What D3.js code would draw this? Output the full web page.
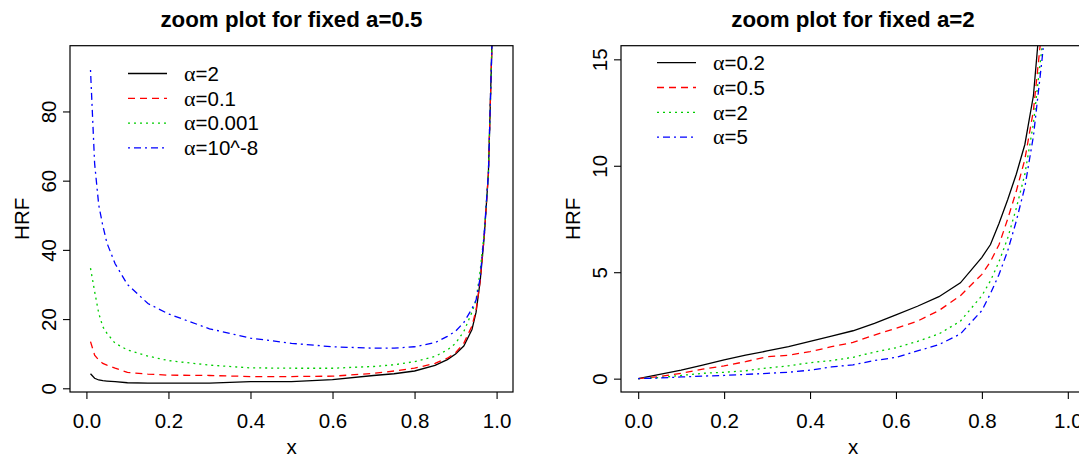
<!DOCTYPE html>
<html>
<head>
<meta charset="utf-8">
<script src="https://cdn.jsdelivr.net/npm/d3@7"></script>
<style>
  body { margin: 0; background: #fff; overflow: hidden; }
  svg { font-family: "Liberation Sans", Arial, sans-serif; }
</style>
</head>
<body>
<div class="chart"></div>
<script>
// DATA ------------------------------------

// left panel: fixed a=0.5
const leftX = [0.01, 0.02, 0.03, 0.04, 0.05, 0.07, 0.1, 0.15, 0.2, 0.3, 0.4, 0.5, 0.6,
  0.7, 0.75, 0.8, 0.85, 0.88, 0.9, 0.92, 0.94, 0.95, 0.96, 0.97, 0.98, 0.99];
const leftAlpha2 = [4.2, 2.9, 2.4, 2.2, 2.1, 1.9, 1.6, 1.5, 1.5, 1.5, 1.9, 1.9, 2.5,
  3.7, 4.2, 5.0, 6.6, 8.3, 9.9, 12.2, 17, 22, 31, 44, 62, 105];
const leftAlpha01 = [13.5, 9.6, 8.2, 7.2, 6.7, 5.8, 4.6, 4.1, 3.8, 3.7, 3.4, 3.4, 3.5,
  4.3, 5.0, 5.8, 7.2, 8.7, 10.3, 13, 18, 22.6, 31, 44, 62, 105];
const leftAlpha0001 = [34.7, 28, 21.7, 17.8, 15.9, 13, 11.1, 9.3, 8.0, 6.7, 5.9, 5.8, 5.8,
  6.3, 6.8, 7.7, 9.2, 11.1, 13, 16.4, 22, 25.5, 34, 45, 62, 105];
const leftAlpha1e8 = [92, 65, 53, 47, 42, 36, 30, 24.5, 21.5, 17.2, 14.5, 13, 12,
  11.6, 11.6, 12, 13.2, 15, 16.5, 19, 23, 25.5, 32, 45, 62, 105];
const leftLabels = ["2", "0.1", "0.001", "10^-8"];
const leftYTicks = [0, 20, 40, 60, 80];

// right panel: fixed a=2
const rightX = [0, 0.05, 0.1, 0.15, 0.2, 0.25, 0.3, 0.35, 0.4, 0.45, 0.5, 0.55, 0.6,
  0.65, 0.7, 0.75, 0.8, 0.82, 0.84, 0.86, 0.88, 0.9, 0.92, 0.94, 0.96];
const rightAlpha02 = [0, 0.2, 0.4, 0.64, 0.88, 1.1, 1.3, 1.5, 1.75, 2.0, 2.25, 2.6, 3.0,
  3.4, 3.85, 4.5, 5.7, 6.3, 7.3, 8.4, 9.6, 11.0, 13.3, 18, 25];
const rightAlpha05 = [0, 0.1, 0.25, 0.45, 0.6, 0.8, 1.03, 1.1, 1.27, 1.5, 1.7, 2.05, 2.36,
  2.7, 3.2, 3.9, 4.9, 5.5, 6.3, 7.5, 8.8, 10.3, 12.6, 16.5, 22];
const rightAlpha2 = [0, 0.05, 0.15, 0.25, 0.3, 0.37, 0.5, 0.6, 0.75, 0.85, 1.0, 1.25, 1.45,
  1.75, 2.1, 2.7, 3.9, 4.6, 5.5, 6.6, 8.0, 9.6, 12.0, 15.6, 20];
const rightAlpha5 = [0, 0.03, 0.08, 0.12, 0.15, 0.2, 0.25, 0.3, 0.4, 0.55, 0.65, 0.85, 1.0,
  1.3, 1.6, 2.1, 3.2, 4.0, 4.9, 6.0, 7.4, 9.0, 11.4, 15.0, 19];
const rightLabels = ["0.2", "0.5", "2", "5"];
const rightYTicks = [0, 5, 10, 15];

const xTicks = [0, 0.2, 0.4, 0.6, 0.8, 1.0];

// line styles shared by both panels (R lty 1..4)
const colors = ["#000000", "#ff0000", "#00cd00", "#0000ff"];
const dashes = [null, "7,5", "2,4", "2,4,7,4"];

// CHART INIT ------------------------------

const totalWidth = 1079;
const totalHeight = 459;
const fontSize = 20.5;

const svg = d3
  .select(".chart")
  .append("svg")
  .attr("width", totalWidth)
  .attr("height", totalHeight);

// one panel = one R plot region
function drawPanel(opts) {
  const { left, right, top, bottom } = opts.box;

  const xScale = d3.scaleLinear().domain([-0.04, 1.04]).range([left, right]);
  const yScale = d3.scaleLinear().domain(opts.yDomain).range([bottom, top]);

  const g = svg.append("g");

  g.append("clipPath")
    .attr("id", opts.id)
    .append("rect")
    .attr("x", left)
    .attr("y", top)
    .attr("width", right - left)
    .attr("height", bottom - top);

  // curves
  const line = d3
    .line()
    .x((d) => xScale(d[0]))
    .y((d) => yScale(d[1]));

  opts.series.forEach((values, i) => {
    g.append("path")
      .datum(opts.x.map((x, j) => [x, values[j]]))
      .attr("clip-path", `url(#${opts.id})`)
      .attr("fill", "none")
      .attr("stroke", colors[i])
      .attr("stroke-width", 1.3)
      .attr("stroke-dasharray", dashes[i])
      .attr("d", line);
  });

  // box
  g.append("rect")
    .attr("x", left)
    .attr("y", top)
    .attr("width", right - left)
    .attr("height", bottom - top)
    .attr("fill", "none")
    .attr("stroke", "#000")
    .attr("stroke-width", 1.2);

  // axes
  const xAxis = d3
    .axisBottom(xScale)
    .tickValues(xTicks)
    .tickSize(7)
    .tickPadding(14)
    .tickFormat(d3.format(".1f"));

  g.append("g")
    .attr("class", "axis x-axis")
    .attr("transform", `translate(0, ${bottom})`)
    .call(xAxis);

  const yAxis = d3
    .axisLeft(yScale)
    .tickValues(opts.yTicks)
    .tickSize(7)
    .tickFormat(d3.format("d"));

  const ya = g
    .append("g")
    .attr("class", "axis y-axis")
    .attr("transform", `translate(${left}, 0)`)
    .call(yAxis);

  // R style: no axis domain path, the box does the job
  g.selectAll(".domain").remove();

  g.selectAll(".axis line").attr("stroke", "#000").attr("stroke-width", 1.1);
  g.selectAll(".axis text")
    .attr("fill", "#000")
    .style("font-size", fontSize + "px")
    .style("font-family", '"Liberation Sans", Arial, sans-serif');

  // rotated y tick labels, parallel to the axis
  ya.selectAll(".tick text")
    .attr("x", null)
    .attr("dy", null)
    .attr("text-anchor", "middle")
    .attr("transform", "translate(-14, 0) rotate(-90)");

  // titles
  g.append("text")
    .attr("x", (left + right) / 2)
    .attr("y", 27)
    .attr("text-anchor", "middle")
    .style("font-size", "22.3px")
    .style("font-weight", "bold")
    .text(opts.title);

  g.append("text")
    .attr("x", (left + right) / 2)
    .attr("y", 454)
    .attr("text-anchor", "middle")
    .style("font-size", fontSize + "px")
    .text("x");

  g.append("text")
    .attr("transform", `translate(${left - 41}, ${(top + bottom) / 2}) rotate(-90)`)
    .attr("text-anchor", "middle")
    .style("font-size", fontSize + "px")
    .text("HRF");

  // legend
  const lg = g
    .append("g")
    .attr("transform", `translate(${opts.legend[0]}, ${opts.legend[1]})`);

  opts.labels.forEach((label, i) => {
    const y = i * 24.8;
    lg.append("line")
      .attr("x1", 0)
      .attr("x2", 39)
      .attr("y1", y)
      .attr("y2", y)
      .attr("stroke", colors[i])
      .attr("stroke-width", 1.3)
      .attr("stroke-dasharray", dashes[i]);

    const t = lg
      .append("text")
      .attr("x", 56)
      .attr("y", y)
      .attr("dy", "0.36em")
      .style("font-size", fontSize + "px");
    t.append("tspan")
      .style("font-family", '"Liberation Serif", "DejaVu Serif", serif')
      .style("font-size", "22px")
      .text("\u03b1");
    t.append("tspan").text("=" + label);
  });
}

// CHART DRAW ------------------------------

drawPanel({
  id: "clip-left",
  box: { left: 70, right: 513, top: 45.7, bottom: 392 },
  yDomain: [-1.07, 99.0],
  yTicks: leftYTicks,
  x: leftX,
  series: [leftAlpha2, leftAlpha01, leftAlpha0001, leftAlpha1e8],
  labels: leftLabels,
  legend: [128, 73.5],
  title: "zoom plot for fixed a=0.5",
});

// right plot region runs past the picture's right edge
drawPanel({
  id: "clip-right",
  box: { left: 621, right: 1085, top: 45.7, bottom: 392 },
  yDomain: [-0.627, 15.64],
  yTicks: rightYTicks,
  x: rightX,
  series: [rightAlpha02, rightAlpha05, rightAlpha2, rightAlpha5],
  labels: rightLabels,
  legend: [657, 62.7],
  title: "zoom plot for fixed a=2",
});
</script>
</body>
</html>
